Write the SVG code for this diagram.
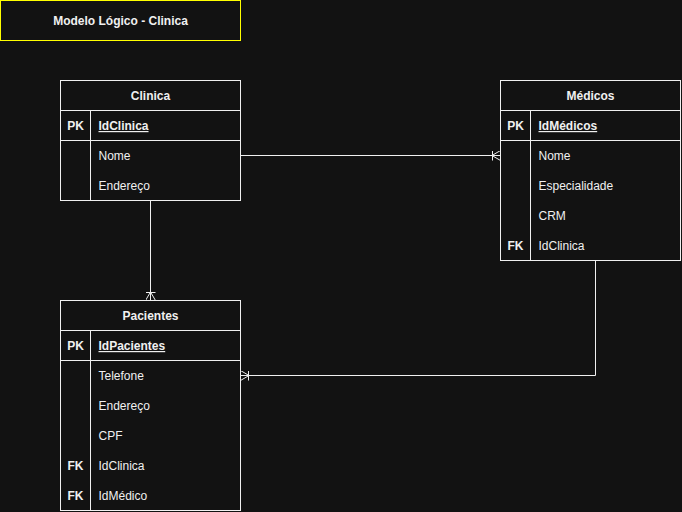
<svg xmlns="http://www.w3.org/2000/svg" width="682" height="512" viewBox="0 0 682 512">
<defs>
<style>
.box{fill:#121212;stroke:#f0f0f0;stroke-width:1}
.ln{stroke:#f0f0f0;stroke-width:1;fill:none}
text{font-family:"Liberation Sans",Arial,sans-serif;font-size:12px;fill:#f0f0f0}
.b{font-weight:bold}
.c{text-anchor:middle}
.u{text-decoration:underline}
.conn{stroke:#f0f0f0;stroke-width:1;fill:none;marker-end:url(#many)}
</style>
<marker id="many" viewBox="0 0 10 10" refX="10" refY="5" markerWidth="10" markerHeight="10" markerUnits="userSpaceOnUse" orient="auto">
<path d="M2,0 L2,10 M1.5,5 L10,0 M1.5,5 L10,10" stroke="#f0f0f0" stroke-width="1" fill="none"/>
</marker>
</defs>
<rect x="0" y="0" width="682" height="512" fill="#121212"/>

<g id="title">
<rect x="0.5" y="0.5" width="240" height="40" fill="#121212" stroke="#ffff00"/>
<text x="120.5" y="24.5" class="b c">Modelo Lógico - Clinica</text>
</g>

<g id="connectors">
<path class="conn" d="M240.5,155.5 L500.5,155.5"/>
<path class="conn" d="M150.5,200.5 L150.5,300.5"/>
<path class="conn" d="M595.5,260.5 L595.5,375.5 L240.5,375.5"/>
</g>

<g id="clinica">
<rect class="box" x="60.5" y="80.5" width="180" height="120"/>
<line class="ln" x1="60.5" y1="110.5" x2="240.5" y2="110.5"/>
<line class="ln" x1="60.5" y1="140.5" x2="240.5" y2="140.5"/>
<line class="ln" x1="90.5" y1="110.5" x2="90.5" y2="200.5"/>
<text x="150.5" y="100" class="b c">Clinica</text>
<text x="75.5" y="130" class="b c">PK</text>
<text x="98.5" y="130" class="b u">IdClinica</text>
<text x="98.5" y="160">Nome</text>
<text x="98.5" y="190">Endereço</text>
</g>

<g id="medicos">
<rect class="box" x="500.5" y="80.5" width="180" height="180"/>
<line class="ln" x1="500.5" y1="110.5" x2="680.5" y2="110.5"/>
<line class="ln" x1="500.5" y1="140.5" x2="680.5" y2="140.5"/>
<line class="ln" x1="530.5" y1="110.5" x2="530.5" y2="260.5"/>
<text x="590.5" y="100" class="b c">Médicos</text>
<text x="515.5" y="130" class="b c">PK</text>
<text x="538.5" y="130" class="b u">IdMédicos</text>
<text x="538.5" y="160">Nome</text>
<text x="538.5" y="190">Especialidade</text>
<text x="538.5" y="220">CRM</text>
<text x="515.5" y="250" class="b c">FK</text>
<text x="538.5" y="250">IdClinica</text>
</g>

<g id="pacientes">
<rect class="box" x="60.5" y="300.5" width="180" height="210"/>
<line class="ln" x1="60.5" y1="330.5" x2="240.5" y2="330.5"/>
<line class="ln" x1="60.5" y1="360.5" x2="240.5" y2="360.5"/>
<line class="ln" x1="90.5" y1="330.5" x2="90.5" y2="510.5"/>
<text x="150.5" y="320" class="b c">Pacientes</text>
<text x="75.5" y="350" class="b c">PK</text>
<text x="98.5" y="350" class="b u">IdPacientes</text>
<text x="98.5" y="380">Telefone</text>
<text x="98.5" y="410">Endereço</text>
<text x="98.5" y="440">CPF</text>
<text x="75.5" y="470" class="b c">FK</text>
<text x="98.5" y="470">IdClinica</text>
<text x="75.5" y="500" class="b c">FK</text>
<text x="98.5" y="500">IdMédico</text>
</g>
</svg>
